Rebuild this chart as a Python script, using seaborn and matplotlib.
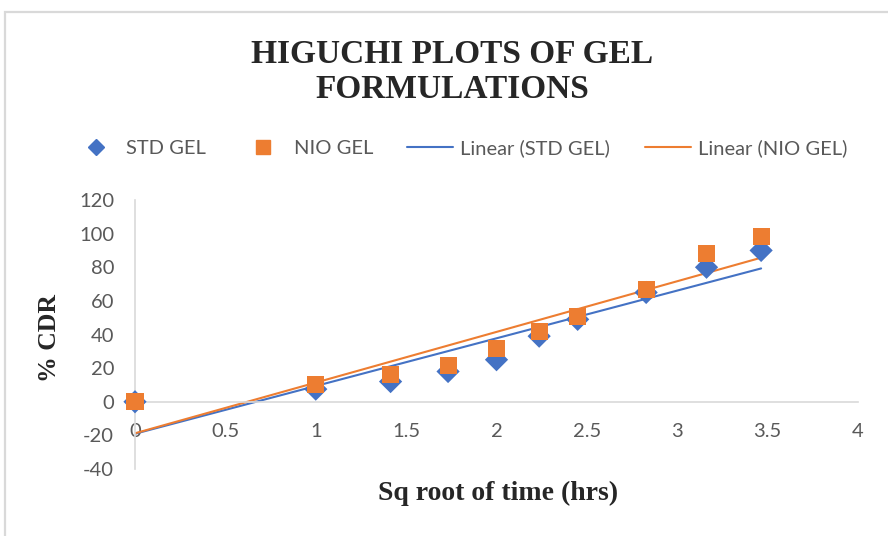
import numpy as np
import pandas as pd
import matplotlib
matplotlib.use("Agg")
import matplotlib.pyplot as plt
import seaborn as sns
from matplotlib.lines import Line2D
from matplotlib.patches import Rectangle

sqrt_time = [0, 1, 1.414, 1.732, 2, 2.236, 2.449, 2.828, 3.162, 3.464]
std_gel = [0, 7.5, 12, 18, 25, 39, 49, 65, 80, 90]
nio_gel = [0, 10, 16, 21.5, 31.5, 41.5, 50.5, 66.5, 88, 98.5]
x_ticks = [0, 0.5, 1, 1.5, 2, 2.5, 3, 3.5, 4]
x_tick_labels = ["0", "0.5", "1", "1.5", "2", "2.5", "3", "3.5", "4"]
y_ticks = [-40, -20, 0, 20, 40, 60, 80, 100, 120]

BLUE = "#4472C4"
ORANGE = "#ED7D31"
GRID = "#D9D9D9"
TXT = "#595959"

sns.set_style("white")
plt.rcParams["font.family"] = ["Lato", "DejaVu Sans"]
plt.rcParams["axes.unicode_minus"] = False

df = pd.DataFrame({"x": sqrt_time, "STD GEL": std_gel, "NIO GEL": nio_gel})

fig = plt.figure(figsize=(8.88, 5.36), dpi=100)
fig.patches.append(Rectangle((5 / 888, -0.1), 1.2, 1 - 12 / 536 + 0.1, transform=fig.transFigure,
                             fill=False, edgecolor=GRID, linewidth=1.6))
ax = fig.add_axes([135 / 888, 1 - 469 / 536, 723 / 888, 269 / 536])

sns.regplot(data=df, x="x", y="STD GEL", ax=ax, scatter=False, ci=None, truncate=True,
            line_kws=dict(color=BLUE, linewidth=1.5))
sns.regplot(data=df, x="x", y="NIO GEL", ax=ax, scatter=False, ci=None, truncate=True,
            line_kws=dict(color=ORANGE, linewidth=1.5))
sns.scatterplot(data=df, x="x", y="STD GEL", ax=ax, marker="D", s=140, color=BLUE,
                edgecolor="none", zorder=3, clip_on=False)
sns.scatterplot(data=df, x="x", y="NIO GEL", ax=ax, marker="s", s=150, color=ORANGE,
                edgecolor="none", zorder=4, clip_on=False)

ax.set_xlim(0, 4)
ax.set_ylim(-40, 120)
ax.set_xticks(x_ticks)
ax.set_xticklabels(x_tick_labels)
ax.set_yticks(y_ticks)
for s in ["top", "right"]:
    ax.spines[s].set_visible(False)
ax.spines["bottom"].set_position(("data", 0))
ax.spines["bottom"].set_color(GRID)
ax.spines["left"].set_color(GRID)
ax.spines["bottom"].set_linewidth(1.2)
ax.spines["left"].set_linewidth(1.2)
ax.tick_params(axis="x", length=0, pad=15, labelsize=14.5, labelcolor=TXT)
ax.tick_params(axis="y", length=0, pad=15, labelsize=14.5, labelcolor=TXT)
ax.set_xlabel("")
ax.set_ylabel("")

fig.text(498 / 888, 1 - 493 / 536, "Sq root of time (hrs)", ha="center", va="center",
         fontsize=20, fontweight="bold", family="Liberation Serif")
fig.text(50 / 888, 1 - 338 / 536, "% CDR", ha="center", va="center", rotation=90,
         fontsize=18.5, fontweight="bold", family="Liberation Serif")
fig.text(452 / 888, 1 - 72 / 536, "HIGUCHI PLOTS OF GEL\nFORMULATIONS", ha="center", va="center",
         fontsize=24, fontweight="bold", family="Liberation Serif", linespacing=1.18)

handles = [
    Line2D([], [], marker="D", color=BLUE, linestyle="none", markersize=8),
    Line2D([], [], marker="s", color=ORANGE, linestyle="none", markersize=10),
    Line2D([], [], color=BLUE, linewidth=1.5),
    Line2D([], [], color=ORANGE, linewidth=1.5),
]
labels = ["STD GEL", "NIO GEL", "Linear (STD GEL)", "Linear (NIO GEL)"]
leg = fig.legend(handles, labels, loc="center", bbox_to_anchor=(460 / 888, 1 - 148 / 536), ncol=4,
                 frameon=False, fontsize=14.5, handlelength=2.3, columnspacing=1.7, handletextpad=0.35)
for t in leg.get_texts():
    t.set_color(TXT)

fig.savefig("out.png", dpi=100)
